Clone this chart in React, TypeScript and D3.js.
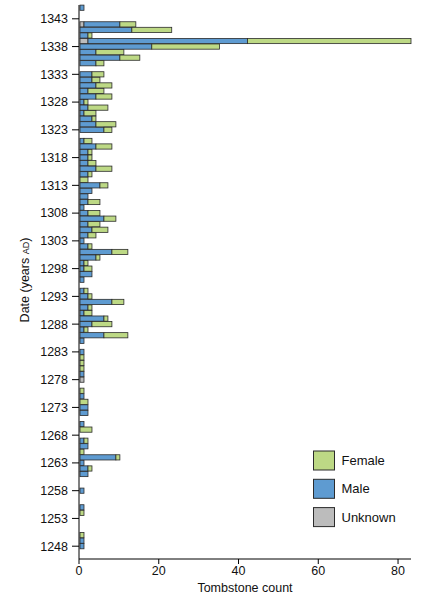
import React from "react";
import * as d3 from "d3";

// years listed from the top row (1345) down to the bottom row (1248)
const years: number[] = d3.range(1345, 1247, -1);

const unknown: number[] = [
  0, 0, 0, 1, 0, 0, 2, 0, 0, 0, 0, 0, 0, 0, 0, 0, 0, 0, 0, 0,
  0, 0, 0, 0, 0, 0, 0, 0, 0, 0, 0, 0, 0, 0, 0, 0, 0, 0, 0, 0,
  0, 0, 0, 0, 0, 0, 0, 0, 0, 0, 0, 0, 0, 0, 0, 0, 0, 0, 0, 0,
  0, 0, 0, 0, 0, 0, 0, 1, 0, 0, 0, 0, 0, 0, 0, 0, 0, 0, 0, 0,
  0, 0, 0, 0, 0, 0, 0, 0, 0, 0, 0, 0, 0, 0, 0, 0, 0, 0,
];

const male: number[] = [
  1, 0, 0, 9, 13, 2, 40, 18, 4, 10, 4, 0, 3, 3, 4, 2, 4, 1, 2, 1,
  3, 4, 6, 0, 1, 4, 2, 2, 2, 4, 2, 0, 5, 3, 2, 2, 1, 2, 6, 2,
  3, 2, 1, 2, 8, 4, 1, 1, 3, 1, 0, 1, 2, 8, 2, 1, 6, 3, 1, 6,
  1, 0, 1, 0, 0, 0, 1, 0, 0, 0, 1, 0, 2, 2, 0, 1, 0, 0, 1, 2,
  0, 9, 1, 2, 2, 0, 0, 1, 0, 0, 1, 0, 0, 0, 0, 0, 1, 1,
];

const female: number[] = [
  0, 0, 0, 4, 10, 1, 41, 17, 7, 5, 2, 0, 3, 2, 4, 4, 4, 1, 5, 3,
  1, 5, 2, 0, 2, 4, 1, 1, 2, 4, 1, 2, 2, 0, 0, 3, 0, 3, 3, 3,
  4, 2, 0, 1, 4, 1, 1, 2, 0, 0, 0, 1, 1, 3, 1, 2, 1, 5, 1, 6,
  0, 0, 0, 1, 1, 1, 0, 0, 0, 1, 0, 2, 0, 0, 0, 0, 3, 0, 1, 0,
  1, 1, 0, 1, 0, 0, 0, 0, 0, 0, 0, 1, 0, 0, 0, 1, 0, 0,
];

const yTicks: number[] = d3.range(1343, 1247, -5);
const xTicks: number[] = [0, 20, 40, 60, 80];

const categories = ["Unknown", "Male", "Female"];
const colors: Record<string, string> = {
  Unknown: "#bcbcbc",
  Male: "#5e9bd1",
  Female: "#bdd985",
};
const legendOrder = ["Female", "Male", "Unknown"];

const font = "'Liberation Sans', Arial, Helvetica, sans-serif";

export default function App() {
  const width = 425;
  const height = 600;
  const left = 80;
  const axisY = 559;

  const x = d3.scaleLinear().domain([0, 83]).range([left, 411]);
  const y = d3
    .scaleBand<number>()
    .domain(years)
    .range([5.1, 548.8])
    .paddingInner(0.06);

  const table = years.map((yr, i) => ({
    year: yr,
    Unknown: unknown[i],
    Male: male[i],
    Female: female[i],
  }));
  const stacked = d3.stack<any>().keys(categories)(table);

  return (
    <svg
      width={width}
      height={height}
      style={{ position: "absolute", left: 0, top: 0, background: "#fff" }}
      fontFamily={font}
    >
      {stacked.map(layer => (
        <g key={layer.key} fill={colors[layer.key]} stroke="#2b2b2b" strokeWidth={0.8}>
          {layer
            .filter(d => d[1] - d[0] > 0)
            .map(d => (
              <rect
                key={d.data.year}
                x={x(d[0])}
                y={y(d.data.year)}
                width={x(d[1]) - x(d[0])}
                height={y.bandwidth()}
              />
            ))}
        </g>
      ))}

      {/* y axis */}
      <line x1={left - 1} x2={left - 1} y1={5} y2={axisY} stroke="#000" strokeWidth={1} />
      {yTicks.map(t => {
        const cy = (y(t) as number) + y.bandwidth() / 2;
        return (
          <g key={t}>
            <line x1={left - 8} x2={left - 1} y1={cy} y2={cy} stroke="#000" />
            <text x={left - 12} y={cy} dy="0.35em" textAnchor="end" fontSize={12.5} fill="#111">
              {t}
            </text>
          </g>
        );
      })}

      {/* x axis */}
      <line x1={left - 1} x2={411} y1={axisY} y2={axisY} stroke="#000" strokeWidth={1} />
      {xTicks.map(t => (
        <g key={t}>
          <line x1={x(t) - 1} x2={x(t) - 1} y1={axisY} y2={axisY + 5} stroke="#000" />
          <text x={x(t) - 1} y={575} textAnchor="middle" fontSize={12.5} fill="#111">
            {t}
          </text>
        </g>
      ))}
      <text x={245} y={592} textAnchor="middle" fontSize={12.5} fill="#111">
        Tombstone count
      </text>

      <text
        transform="translate(25,280) rotate(-90)"
        textAnchor="middle"
        dy="0.35em"
        fontSize={12.5}
        fill="#111"
      >
        Date (years <tspan fontSize={9}>AD</tspan>)
      </text>

      {/* legend */}
      {legendOrder.map((k, i) => (
        <g key={k} transform={`translate(313.5,${451 + i * 28.3})`}>
          <rect width={21} height={19} fill={colors[k]} stroke="#2b2b2b" strokeWidth={1} />
          <text x={28} y={9.5} dy="0.35em" fontSize={13} fill="#111">
            {k}
          </text>
        </g>
      ))}
    </svg>
  );
}
